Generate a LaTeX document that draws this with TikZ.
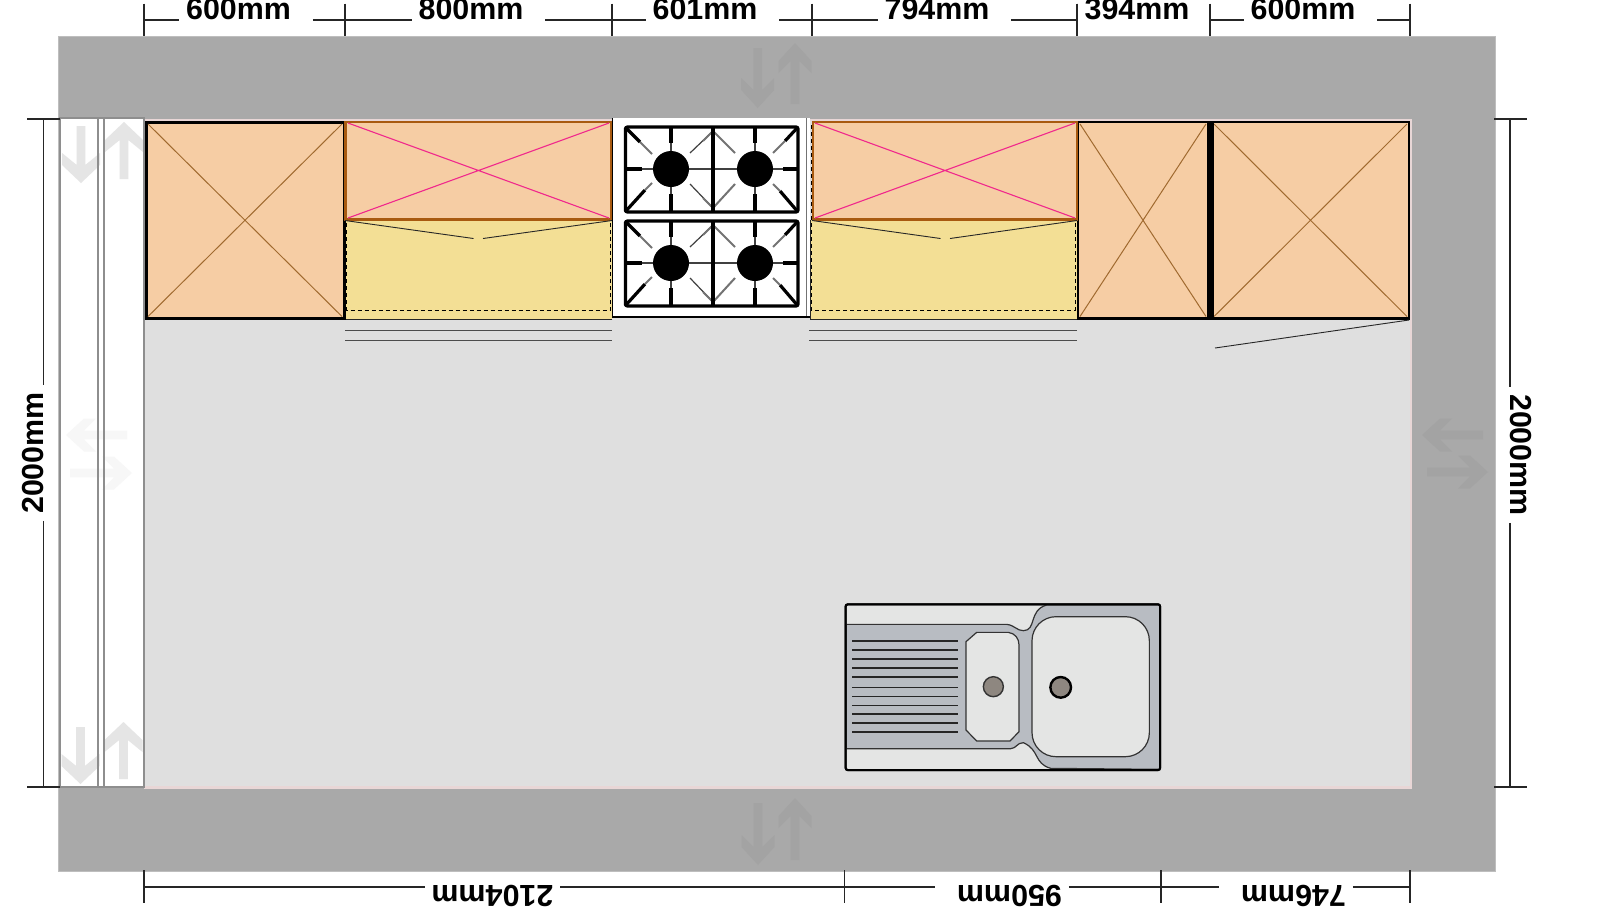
\documentclass[tikz,border=0pt]{standalone}
\usepackage{fontspec}
\setmainfont{Liberation Sans}
\usetikzlibrary{arrows.meta}
\definecolor{wallc}{HTML}{A9A9A9}
\definecolor{walledge}{HTML}{BEBEBE}
\definecolor{roomc}{HTML}{DFDFDF}
\definecolor{blushc}{HTML}{E8D6D6}
\definecolor{cabc}{HTML}{F6CDA4}
\definecolor{basec}{HTML}{F3DF95}
\definecolor{brownc}{HTML}{A85A10}
\definecolor{crossc}{HTML}{A06A30}
\definecolor{pinkc}{HTML}{F0288C}
\definecolor{stripc}{HTML}{8E8E8E}
\definecolor{metalc}{HTML}{B8BCC2}
\definecolor{sinkc}{HTML}{E4E5E4}
\definecolor{drainc}{HTML}{8E8780}
\definecolor{ghostwall}{HTML}{A3A3A3}
\definecolor{ghoststrip}{HTML}{E5E5E5}
\definecolor{ghostpale}{HTML}{F7F7F7}
\tikzset{
  dimline/.style={line width=0.7pt,black!85},
  dimtext/.style={font=\fontsize{15.2}{16}\selectfont\bfseries,inner sep=0pt,outer sep=0pt,anchor=base},
  cabbox/.style={fill=cabc,draw=black,line width=1.1pt},
  wallcab/.style={fill=cabc,draw=brownc,line width=1.25pt},
  basebox/.style={fill=basec,draw=none},
  basedash/.style={draw=black,line width=0.5pt,dash pattern=on 2pt off 1.5pt},
  crossline/.style={draw=crossc,line width=0.5pt},
  pinkline/.style={draw=pinkc,line width=0.55pt},
  thinline/.style={draw=black!85,line width=0.45pt},
  drawer/.style={draw=black!70,line width=0.5pt},
  stripline/.style={draw=stripc,line width=1pt},
  hobframe/.style={draw=black,line width=1.6pt,rounded corners=1pt},
  hobthick/.style={draw=black,line width=1.6pt},
  hobthin/.style={draw=black!75,line width=0.6pt},
  hobgrey/.style={draw=black!55,line width=1pt},
  groove/.style={draw=black!85,line width=0.55pt},
  bowl/.style={fill=sinkc,draw=black!80,line width=0.6pt}
}
\newcommand{\ghostV}[5]{% x, ytail, ytip, colour, half head width
  \pgfmathsetmacro{\dirs}{(#3>#2)?1:-1}
  \fill[#4] (#1-4.3,#2) -- (#1+4.3,#2) -- (#1+4.3,#3-\dirs*18) -- (#1+#5,#3-\dirs*30) -- (#1+#5,#3-\dirs*18) -- (#1,#3) -- (#1-#5,#3-\dirs*18) -- (#1-#5,#3-\dirs*30) -- (#1-4.3,#3-\dirs*18) -- cycle;}
\newcommand{\ghostH}[5]{% y, xtail, xtip, colour, half head width
  \pgfmathsetmacro{\dirs}{(#3>#2)?1:-1}
  \fill[#4] (#2,#1-4.3) -- (#2,#1+4.3) -- (#3-\dirs*18,#1+4.3) -- (#3-\dirs*30,#1+#5) -- (#3-\dirs*18,#1+#5) -- (#3,#1) -- (#3-\dirs*18,#1-#5) -- (#3-\dirs*30,#1-#5) -- (#3-\dirs*18,#1-4.3) -- cycle;}
\begin{document}
\begin{tikzpicture}[x=0.5pt,y=-0.5pt]
\useasboundingbox (0,0) rectangle (1620,907);
\clip (0,0) rectangle (1620,907);
\fill[white] (0,0) rectangle (1620,907);
% walls and floor
\fill[wallc,draw=walledge,line width=0.5pt] (58.8,36) rectangle (1495,871);
\fill[blushc] (144,118.5) rectangle (1412,789);
\fill[roomc] (144,121) rectangle (1409.5,786);
% ghost arrows on walls
\ghostV{757.7}{48}{108}{ghostwall}{16.5}
\ghostV{795}{104}{43}{ghostwall}{16.5}
\ghostV{758}{803}{865}{ghostwall}{16.5}
\ghostV{795}{860}{798}{ghostwall}{16.5}
\ghostH{435}{1483}{1422}{ghostwall}{16.5}
\ghostH{472}{1427}{1488}{ghostwall}{16.5}
% left strip
\fill[white] (60,118) rectangle (144,787);
\ghostV{81}{126}{183}{ghoststrip}{19}
\ghostV{124}{179}{122}{ghoststrip}{19}
\ghostV{80.5}{727}{784}{ghoststrip}{19}
\ghostV{123.5}{779}{722}{ghoststrip}{19}
\ghostH{435}{127}{66}{ghostpale}{16.5}
\ghostH{473}{70}{132}{ghostpale}{16.5}
\draw[stripline] (60,118) rectangle (144,787);
\draw[stripline] (98,118) -- (98,787);
\draw[stripline] (104,118) -- (104,787);
% base units below wall units
\fill[basebox] (345,220) rectangle (612,319);
\fill[basebox] (810,220) rectangle (1077,319);
\draw[basedash] (346.5,125) rectangle (610.5,310);
\draw[basedash] (811,125) rectangle (1075,310);
\draw[thinline] (345,319) -- (612,319);
\draw[thinline] (810,319) -- (1077,319) (810,220) -- (810,319);
\draw[drawer] (345,330) -- (612,330) (345,340) -- (612,340);
\draw[drawer] (809,330) -- (1077,330) (809,340) -- (1077,340);
% tall cabinets
\draw[cabbox,line width=1.5pt] (146.5,122) rectangle (344,318.5);
\draw[crossline] (148,124) -- (342,316.5) (342,124) -- (148,316.5);
\draw[cabbox] (1078,122) rectangle (1208,318.5);
\draw[crossline] (1080,124) -- (1206,316.5) (1206,124) -- (1080,316.5);
\draw[cabbox] (1212,122) rectangle (1409,318.5);
\draw[crossline] (1214,124) -- (1407,316.5) (1407,124) -- (1214,316.5);
\fill[black] (1207.4,121) rectangle (1213.6,319.5);
\draw[cabbox,fill=none,line width=0.7pt] (345,121) -- (345,320);
% wall units
\draw[wallcab] (345.5,122) rectangle (611.5,219.5);
\draw[pinkline] (348,123) -- (609,218) (609,123) -- (348,218);
\draw[wallcab] (813,122) rectangle (1077,219.5);
\draw[pinkline] (815,123) -- (1075,218) (1075,123) -- (815,218);
% door swing lines
\draw[thinline] (345,220.5) -- (473.5,238.5) (483,238.5) -- (612,220.5);
\draw[thinline] (812,220.5) -- (940.5,238.5) (950,238.5) -- (1077,220.5);
\draw[thinline] (1409,320) -- (1215,348);
% hob
\fill[white] (612,118) rectangle (810,316);
\draw[draw=black!55,line width=0.8pt] (806.5,118) -- (806.5,316);
\draw[draw=black,line width=1pt] (612,317) -- (810,317);
\draw[draw=black,line width=0.4pt] (612,118) -- (612,316);
\foreach \dy in {0,94}{
\begin{scope}[yshift=-\dy*0.5pt]
\draw[hobthin] (625,169) -- (798,169);
\draw[hobthin] (671,127) -- (671,212) (755,127) -- (755,212);
\draw[hobthick] (671,127) -- (671,143) (671,194) -- (671,212);
\draw[hobthick] (755,127) -- (755,143) (755,194) -- (755,212);
\draw[hobthick] (625,169) -- (642,169) (783,169) -- (798,169);
\draw[hobthick] (625,127) -- (640,142) (625,212) -- (645,190);
\draw[hobthick] (798,127) -- (785,141) (798,212) -- (780,191);
\draw[hobgrey] (640,142) -- (652,154) (645,190) -- (652,183);
\draw[hobgrey] (785,141) -- (773,153) (780,191) -- (773,184);
\draw[hobthin] (690,153) -- (713,131) (690,184) -- (713,208);
\draw[hobgrey] (703,141) -- (713,131) (703,198) -- (713,208);
\draw[hobgrey] (735,153) -- (713,131) (735,184) -- (713,208);
\draw[hobframe] (625.5,127) rectangle (798,212);
\draw[hobthick] (713,127) -- (713,212);
\fill[black] (671,169) circle[radius=18];
\fill[black] (755,169) circle[radius=18];
\end{scope}}
% sink
\begin{scope}[shift={(820,590)},x=0.16667pt,y=-0.16667pt]
\draw[fill=sinkc,draw=black,line width=1pt,rounded corners=1pt] (77,43) rectangle (1020,540);
\draw[fill=metalc,draw=black!80,line width=0.6pt] (79,103) -- (560,103) .. controls (585,106) and (590,122) .. (610,122) .. controls (650,122) and (625,60) .. (680,45) -- (1019,45) -- (1019,538) -- (692,535) .. controls (640,520) and (660,480) .. (610,458) .. controls (590,458) and (590,475) .. (572,476) -- (79,476) -- cycle;
\draw[fill=none,draw=black,line width=1pt,rounded corners=1pt] (77,43) rectangle (1020,540);
\draw[bowl] (438,155) -- (470,127) -- (565,127) .. controls (585,130) and (597,145) .. (597,165) -- (597,425) -- (570,453) -- (470,453) -- (438,420) -- cycle;
\draw[bowl,rounded corners=12pt] (636,80) rectangle (988,500);
\foreach \gy in {153,180,207,234,261,292,319,346,372,399,426}{\draw[groove] (97,\gy) -- (413,\gy);}
\draw[fill=drainc,draw=black!80,line width=0.7pt] (520,290) circle[radius=30];
\draw[fill=drainc,draw=black,line width=1.2pt] (722,292) circle[radius=31];
\end{scope}
% dimension coordinates
\coordinate (t1) at (144,20); \coordinate (t2) at (345,20); \coordinate (t3) at (612,20);
\coordinate (t4) at (812,20); \coordinate (t5) at (1077,20); \coordinate (t6) at (1210,20);
\coordinate (t7) at (1410,20);
\coordinate (b1) at (144,887); \coordinate (b2) at (844.5,887); \coordinate (b3) at (1161,887); \coordinate (b4) at (1410,887);
\coordinate (l1) at (43.5,119); \coordinate (l2) at (43.5,787);
\coordinate (r1) at (1510,119); \coordinate (r2) at (1510,787);
% dimension labels
\node[dimtext,outer xsep=3.5pt] (d600a) at (238.5,19.5) {600mm};
\node[dimtext,outer xsep=3.5pt] (d800) at (471,19.5) {800mm};
\node[dimtext,outer xsep=3.5pt] (d601) at (705,19.5) {601mm};
\node[dimtext,outer xsep=3.5pt] (d794) at (937,19.5) {794mm};
\node[dimtext,outer xsep=3.5pt] (d394) at (1137,19.5) {394mm};
\node[dimtext,outer xsep=3.5pt] (d600b) at (1303,19.5) {600mm};
\node[dimtext,rotate=180,outer xsep=3.5pt] (d2104) at (492.5,885) {2104mm};
\node[dimtext,rotate=180,outer xsep=3.5pt] (d950) at (1009.5,885) {950mm};
\node[dimtext,rotate=180,outer xsep=3.5pt] (d746) at (1293.5,885) {746mm};
\node[dimtext,rotate=90,outer xsep=3.5pt] (dl) at (43.5,453) {2000mm};
\node[dimtext,rotate=-90,outer xsep=3.5pt] (dr) at (1510,455) {2000mm};
% top dimension lines (the run after a label starts further off, as in the plan)
\draw[dimline] (t1) -- (d600a.west |- t1);
\draw[dimline] ([xshift=7.5pt]d600a.east |- t1) -- (t2) -- (d800.west |- t1);
\draw[dimline] ([xshift=7.5pt]d800.east |- t1) -- (t3) -- (d601.west |- t1);
\draw[dimline] ([xshift=7.5pt]d601.east |- t1) -- (t4) -- (d794.west |- t1);
\draw[dimline] ([xshift=7.5pt]d794.east |- t1) -- (t5);
\draw[dimline] (t6) -- (d600b.west |- t1);
\draw[dimline] ([xshift=7.5pt]d600b.east |- t1) -- (t7);
\foreach \t in {t1,t2,t3,t4,t5,t6,t7}{\draw[dimline] (\t |- 0,3.5) -- (\t |- 0,36);}
\draw[dimline,line width=1.2pt] (t5 |- 0,3.5) -- (t5 |- 0,36);
% bottom dimension lines
\draw[dimline] (b1) -- (d2104.east |- b1);
\draw[dimline] (d2104.west |- b1) -- (b2) -- ([xshift=-7.5pt]d950.east |- b1);
\draw[dimline] (d950.west |- b1) -- (b3) -- ([xshift=-7.5pt]d746.east |- b1);
\draw[dimline] (d746.west |- b1) -- (b4);
\foreach \t in {b1,b2,b3,b4}{\draw[dimline] (\t |- 0,870) -- (\t |- 0,903);}
% side dimension lines
\draw[dimline] (l1) -- (l1 |- dl.east);
\draw[dimline] (l1 |- dl.west) -- (l2);
\draw[dimline] (r1) -- (r1 |- dr.west);
\draw[dimline] (r1 |- dr.east) -- (r2);
\draw[dimline] (27,119) -- (l1) -- (60,119);
\draw[dimline] (27,787) -- (l2) -- (60,787);
\draw[dimline] (1494,119) -- (r1) -- (1527,119);
\draw[dimline] (1494,787) -- (r2) -- (1527,787);
\end{tikzpicture}
\end{document}
